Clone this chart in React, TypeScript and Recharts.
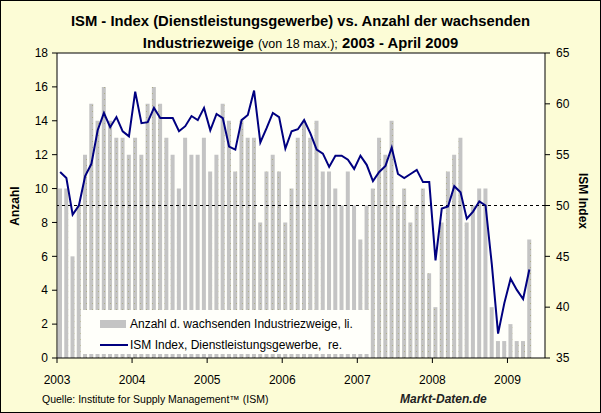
import React from 'react';
import {
  ComposedChart,
  Bar,
  Line,
  XAxis,
  YAxis,
  CartesianGrid,
  ReferenceLine,
} from 'recharts';

// year labels at the January ticks
const years = ['2003', '2004', '2005', '2006', '2007', '2008', '2009'];

// Anzahl der wachsenden Industriezweige (von 18), Jan 2003 - Apr 2009
const anzahl = [
  10, 10, 6, 9, 12, 15, 14, 16, 14, 13, 13, 12,
  13, 12, 15, 16, 15, 13, 12, 10, 13, 12, 12, 13,
  11, 12, 15, 14, 11, 14, 13, 13, 8, 11, 12, 11,
  8, 10, 13, 14, 13, 14, 11, 11, 10, 9, 11, 9,
  7, 9, 10, 13, 12, 14, 9, 10, 8, 9, 10, 5,
  3, 8, 11, 12, 13, 8, 9, 10, 10, 3, 1, 1,
  2, 1, 1, 7,
];

// ISM Index Dienstleistungsgewerbe
const ismIndex = [
  53.3, 52.7, 49.1, 50.0, 52.9, 54.1, 57.4, 59.1, 57.7, 58.7, 57.3, 56.8,
  61.2, 58.1, 58.2, 59.6, 58.6, 58.6, 58.6, 57.3, 57.8, 58.8, 58.4, 59.6,
  57.4, 59.0, 58.6, 55.8, 55.5, 58.4, 58.9, 61.3, 56.2, 57.6, 59.1, 58.7,
  55.6, 57.3, 57.5, 58.4, 57.1, 55.5, 55.1, 53.8, 54.9, 54.9, 54.5, 53.6,
  54.9, 54.0, 52.4, 53.3, 53.9, 55.7, 53.1, 52.7, 53.1, 53.5, 52.3, 52.3,
  44.6, 49.7, 49.9, 51.9, 51.3, 48.7, 49.4, 50.4, 50.0, 44.2, 37.4, 40.4,
  42.8, 41.7, 40.8, 43.7,
];

const leftTicks = [0, 2, 4, 6, 8, 10, 12, 14, 16, 18];
const rightTicks = [35, 40, 45, 50, 55, 60, 65];
const yearTicks = years.map((_, i) => i * 12);

const data = anzahl.map((v, i) => ({ m: i + 0.5, anzahl: v, ism: ismIndex[i] }));

const FONT = '"Liberation Sans", Arial, sans-serif';

function LegendBox() {
  return (
    <div
      style={{
        position: 'absolute',
        left: 82,
        top: 309,
        width: 286,
        height: 44,
        background: '#fffffa',
        fontSize: 12,
        color: '#000',
      }}
    >
      <div style={{ display: 'flex', alignItems: 'center', height: 14, marginTop: 7, paddingLeft: 17 }}>
        <span style={{ width: 26, height: 8, background: '#c4c4c4', marginRight: 4 }} />
        <span>Anzahl d. wachsenden Industriezweige, li.</span>
      </div>
      <div style={{ display: 'flex', alignItems: 'center', height: 14, marginTop: 7, paddingLeft: 17 }}>
        <span style={{ width: 28, height: 2, background: '#000080', marginRight: 2 }} />
        <span>ISM Index, Dienstleistungsgewerbe,&nbsp; re.</span>
      </div>
    </div>
  );
}

export default function App() {
  const tick = { fontSize: 12, fill: '#000', fontFamily: FONT };
  return (
    <div
      style={{
        position: 'absolute',
        left: 0,
        top: 0,
        width: 601,
        height: 413,
        boxSizing: 'border-box',
        border: '1px solid #000',
        background: '#fcfcd6',
        fontFamily: FONT,
        overflow: 'hidden',
      }}
    >
      <div style={{ position: 'absolute', left: -1, top: -1, width: 601, height: 413 }}>
        <ComposedChart
          width={601}
          height={413}
          data={data}
          margin={{ top: 53, right: 16, bottom: 25, left: 10 }}
        >
          <defs>
            <pattern id="dots" width="6" height="6" patternUnits="userSpaceOnUse">
              <rect width="6" height="6" fill="#c4c4c4" />
              <rect x="2" y="3" width="1" height="1" fill="#adad88" />
            </pattern>
          </defs>
          <CartesianGrid horizontal={false} vertical={false} fill="#fffffa" />
          <XAxis
            dataKey="m"
            type="number"
            domain={[0, 78]}
            ticks={yearTicks}
            tickFormatter={(t) => years[Math.round(t / 12)]}
            height={30}
            tick={tick}
            tickSize={5}
            tickMargin={12}
            axisLine={{ stroke: '#000' }}
            tickLine={{ stroke: '#000' }}
            allowDataOverflow
          />
          <YAxis
            yAxisId="left"
            domain={[0, 18]}
            ticks={leftTicks}
            width={47}
            tick={tick}
            tickSize={5}
            tickMargin={4}
            axisLine={{ stroke: '#000' }}
            tickLine={{ stroke: '#000' }}
          />
          <YAxis
            yAxisId="right"
            orientation="right"
            domain={[35, 65]}
            ticks={rightTicks}
            width={40}
            tick={tick}
            tickSize={5}
            tickMargin={6}
            axisLine={{ stroke: '#000' }}
            tickLine={{ stroke: '#000' }}
          />
          <ReferenceLine yAxisId="left" y={18} stroke="#000" />
          <Bar yAxisId="left" dataKey="anzahl" fill="url(#dots)" barSize={4} isAnimationActive={false} />
          <ReferenceLine yAxisId="right" y={50} stroke="#000" strokeDasharray="3 3" />
          <Line
            yAxisId="right"
            dataKey="ism"
            type="linear"
            stroke="#000080"
            strokeWidth={2}
            dot={false}
            isAnimationActive={false}
          />
        </ComposedChart>
      </div>

      <LegendBox />

      <div style={{ position: 'absolute', left: 0, top: 12, width: 599, textAlign: 'center', fontSize: 14.8, fontWeight: 'bold' }}>
        ISM - Index (Dienstleistungsgewerbe) vs. Anzahl der wachsenden
      </div>
      <div style={{ position: 'absolute', left: 0, top: 34, width: 599, textAlign: 'center', fontSize: 14.8, fontWeight: 'bold' }}>
        Industriezweige <span style={{ fontWeight: 'normal', fontSize: 12.5 }}>(von 18 max.);</span> 2003 - April 2009
      </div>

      <div
        style={{
          position: 'absolute',
          left: 14,
          top: 205,
          transform: 'translate(-50%, -50%) rotate(-90deg)',
          fontSize: 12,
          fontWeight: 'bold',
          whiteSpace: 'nowrap',
        }}
      >
        Anzahl
      </div>
      <div
        style={{
          position: 'absolute',
          left: 582,
          top: 200,
          transform: 'translate(-50%, -50%) rotate(90deg)',
          fontSize: 12,
          fontWeight: 'bold',
          whiteSpace: 'nowrap',
        }}
      >
        ISM Index
      </div>

      <div style={{ position: 'absolute', left: 41, top: 392, fontSize: 10.5 }}>
        Quelle: Institute for Supply Management™ (ISM)
      </div>
      <div style={{ position: 'absolute', left: 399, top: 391, fontSize: 12, fontWeight: 'bold', fontStyle: 'italic', color: '#222' }}>
        Markt-Daten.de
      </div>
    </div>
  );
}
